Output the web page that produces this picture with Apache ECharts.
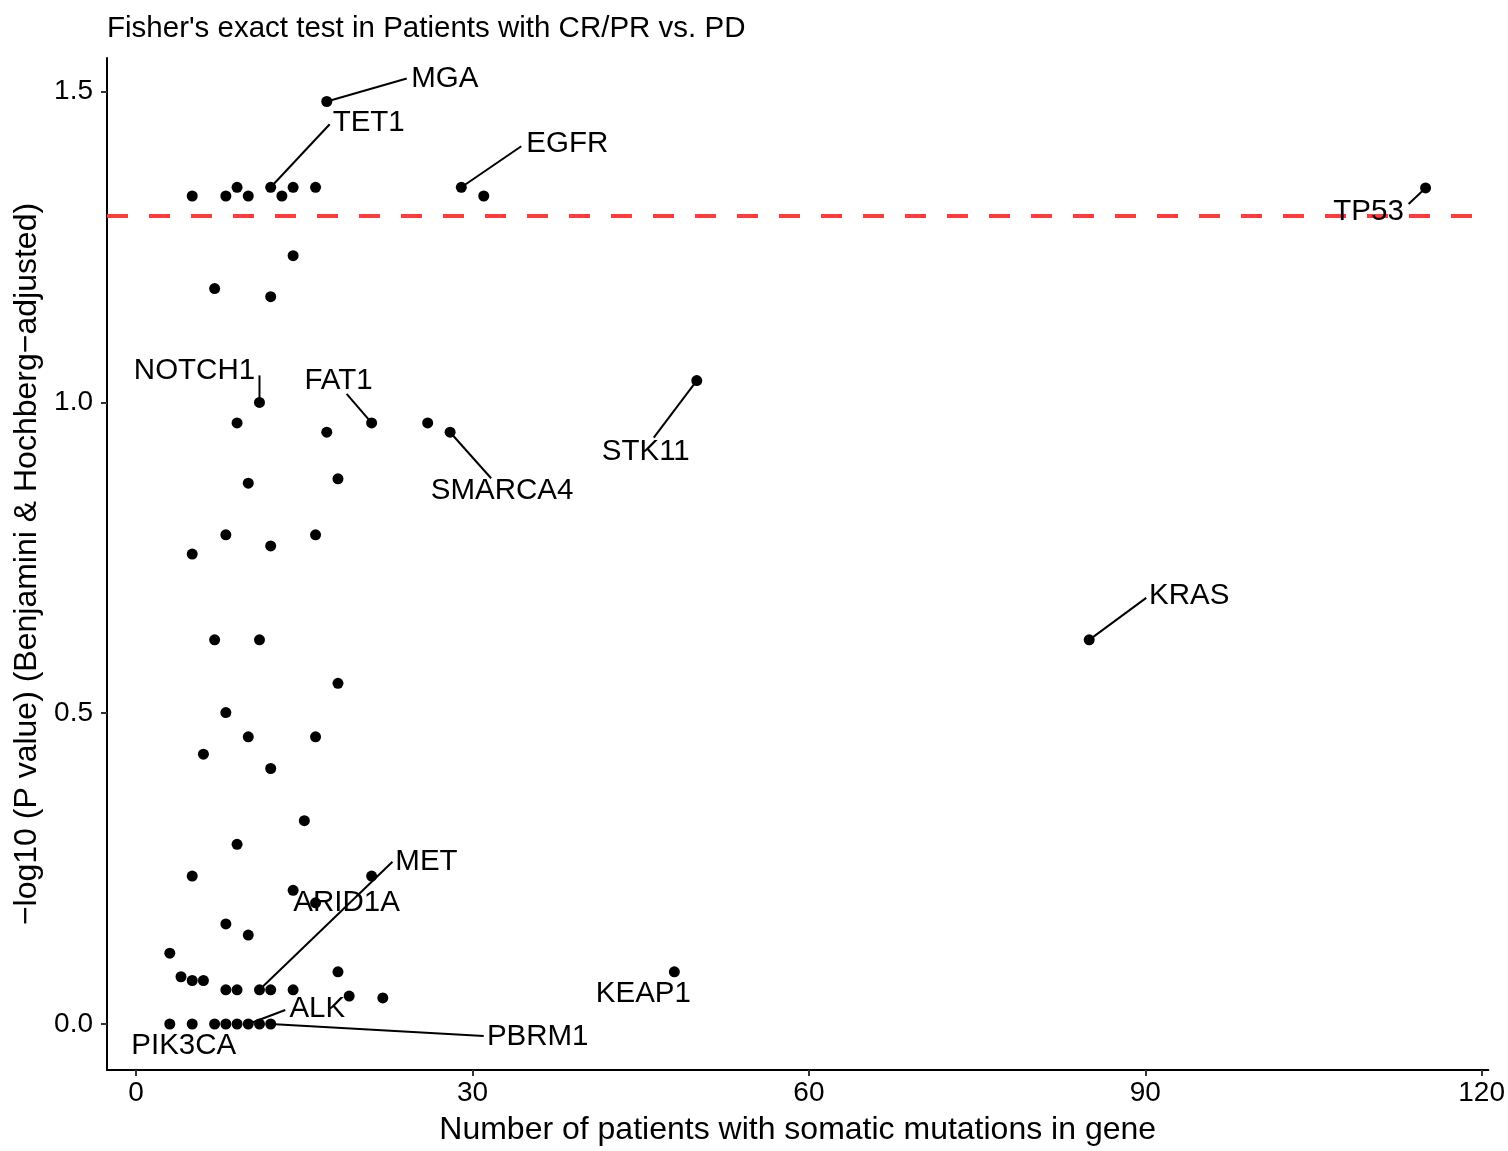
<!DOCTYPE html>
<html>
<head>
<meta charset="utf-8">
<script src="https://cdn.jsdelivr.net/npm/echarts@6/dist/echarts.min.js"></script>
<style>
html, body { margin: 0; padding: 0; background: #fff; }
#chart { width: 1508px; height: 1151px; }
</style>
</head>
<body>
<div id="chart"></div>
<script>
// number of patients with a mutation in the gene
var mutCounts = [
    5, 8, 9, 10, 12, 13, 14, 16, 17, 29, 31, 115,
    14, 7, 12,
    11, 9, 17, 21, 26, 28, 50,
    10, 18, 8, 12, 16, 5,
    7, 11, 85, 18, 8, 10, 16, 6, 12, 15, 9,
    5, 21, 14, 16, 8, 10, 3, 4, 5, 6, 8, 9, 11, 12, 14, 18, 19, 22, 48,
    3, 5, 7, 8, 9, 10, 11, 12
];
// -log10 BH-adjusted p value
var negLogP = [
    1.332, 1.332, 1.346, 1.332, 1.346, 1.332, 1.346, 1.346, 1.484, 1.346, 1.332, 1.345,
    1.236, 1.183, 1.170,
    1.000, 0.967, 0.952, 0.967, 0.967, 0.952, 1.035,
    0.870, 0.877, 0.787, 0.769, 0.787, 0.756,
    0.618, 0.618, 0.618, 0.548, 0.501, 0.462, 0.462, 0.434, 0.411, 0.327, 0.289,
    0.238, 0.238, 0.215, 0.195, 0.161, 0.143, 0.114, 0.076, 0.070, 0.070, 0.055, 0.055, 0.055, 0.055, 0.055, 0.084, 0.045, 0.042, 0.084,
    0, 0, 0, 0, 0, 0, 0, 0
];
// gene names, only for the labelled points
var geneNames = [
    '', '', '', '', 'TET1', '', '', '', 'MGA', 'EGFR', '', 'TP53',
    '', '', '',
    'NOTCH1', '', '', 'FAT1', '', 'SMARCA4', 'STK11',
    '', '', '', '', '', '',
    '', '', 'KRAS', '', '', '', '', '', '', '', '',
    '', '', '', 'ARID1A', '', '', '', '', '', '', '', '', 'MET', '', '', '', '', '', 'KEAP1',
    'PIK3CA', '', '', '', '', 'ALK', '', 'PBRM1'
];
var xTicks = [0, 30, 60, 90, 120];
var yTicks = [0, 0.5, 1.0, 1.5];
var threshold = 1.30103; // -log10(0.05)

// where each label sits, in pixels from its point (label centre)
var labelOffsets = {
    MGA: [118, -23], TET1: [98, -64], EGFR: [106, -43], TP53: [-57, 24],
    NOTCH1: [-65, -32], FAT1: [-33, -42], SMARCA4: [52, 59], STK11: [-51, 71],
    KRAS: [100, -44], MET: [167, -128], ARID1A: [31, 0], ALK: [69, -15],
    PBRM1: [267, 13], PIK3CA: [14, 22], KEAP1: [-31, 22]
};
// where each repel segment stops, in pixels from its point (none for close labels)
var segmentEnds = {
    MGA: [80, -23], TET1: [59, -63], EGFR: [60, -41], TP53: [-17, 16],
    NOTCH1: [0, -27], FAT1: [-25, -29], SMARCA4: [41, 46], STK11: [-43, 57],
    KRAS: [57, -42], MET: [133, -128], ALK: [37, -14], PBRM1: [213, 12]
};

var fontFamily = '"Liberation Sans", Arial, sans-serif';
var labelFont = '29.5px ' + fontFamily;

var points = [];
var labelled = [];
for (var i = 0; i < mutCounts.length; i++) {
    points.push([mutCounts[i], negLogP[i]]);
    if (geneNames[i]) {
        labelled.push([mutCounts[i], negLogP[i], geneNames[i]]);
    }
}

function renderLabel(params, api) {
    var name = labelled[params.dataIndex][2];
    var off = labelOffsets[name];
    var seg = segmentEnds[name];
    var p = api.coord([api.value(0), api.value(1)]);
    var children = [];
    if (seg) {
        children.push({
            type: 'line',
            shape: { x1: p[0], y1: p[1], x2: p[0] + seg[0], y2: p[1] + seg[1] },
            style: { stroke: '#000', lineWidth: 2 }
        });
    }
    children.push({
        type: 'text',
        style: {
            text: name,
            x: p[0] + off[0],
            y: p[1] + off[1],
            align: 'center',
            verticalAlign: 'middle',
            font: labelFont,
            fill: '#000'
        }
    });
    return { type: 'group', children: children };
}

var chart = echarts.init(document.getElementById('chart'));

var option = {
    animation: false,
    backgroundColor: '#fff',
    title: {
        text: "Fisher's exact test in Patients with CR/PR vs. PD",
        left: 102,
        top: 9,
        textStyle: {
            color: '#000',
            fontWeight: 'normal',
            fontSize: 29.5,
            fontFamily: fontFamily
        }
    },
    grid: {
        left: 107,
        right: 19,
        top: 58,
        bottom: 81
    },
    xAxis: {
        type: 'value',
        min: -2.6,
        max: 120.6,
        name: 'Number of patients with somatic mutations in gene',
        nameLocation: 'middle',
        nameGap: 44,
        nameTextStyle: { color: '#000', fontSize: 32, fontFamily: fontFamily },
        axisLine: { show: true, onZero: false, lineStyle: { color: '#000', width: 2 } },
        axisTick: { show: true, customValues: xTicks, length: 6, lineStyle: { color: '#333', width: 2 } },
        axisLabel: {
            customValues: xTicks,
            color: '#000',
            fontSize: 28,
            fontFamily: fontFamily,
            margin: 9
        },
        splitLine: { show: false }
    },
    yAxis: {
        type: 'value',
        min: -0.074,
        max: 1.554,
        name: '\u2212log10 (P value) (Benjamini & Hochberg\u2212adjusted)',
        nameLocation: 'middle',
        nameGap: 63,
        nameTextStyle: { color: '#000', fontSize: 32, fontFamily: fontFamily },
        axisLine: { show: true, onZero: false, lineStyle: { color: '#000', width: 2 } },
        axisTick: { show: true, customValues: yTicks, length: 6, lineStyle: { color: '#333', width: 2 } },
        axisLabel: {
            customValues: yTicks,
            color: '#000',
            fontSize: 28,
            fontFamily: fontFamily,
            margin: 14,
            formatter: function (v) { return v.toFixed(1); }
        },
        splitLine: { show: false }
    },
    series: [
        {
            type: 'scatter',
            data: points,
            symbolSize: 11,
            itemStyle: { color: '#000', opacity: 1 },
            emphasis: { disabled: true },
            markLine: {
                silent: true,
                symbol: 'none',
                label: { show: false },
                lineStyle: { color: '#ff3b3b', width: 4, type: [21, 21] },
                data: [{ yAxis: threshold }]
            }
        },
        {
            type: 'custom',
            data: labelled,
            renderItem: renderLabel,
            clip: false,
            silent: true,
            z: 5
        }
    ]
};

chart.setOption(option);
</script>
</body>
</html>
